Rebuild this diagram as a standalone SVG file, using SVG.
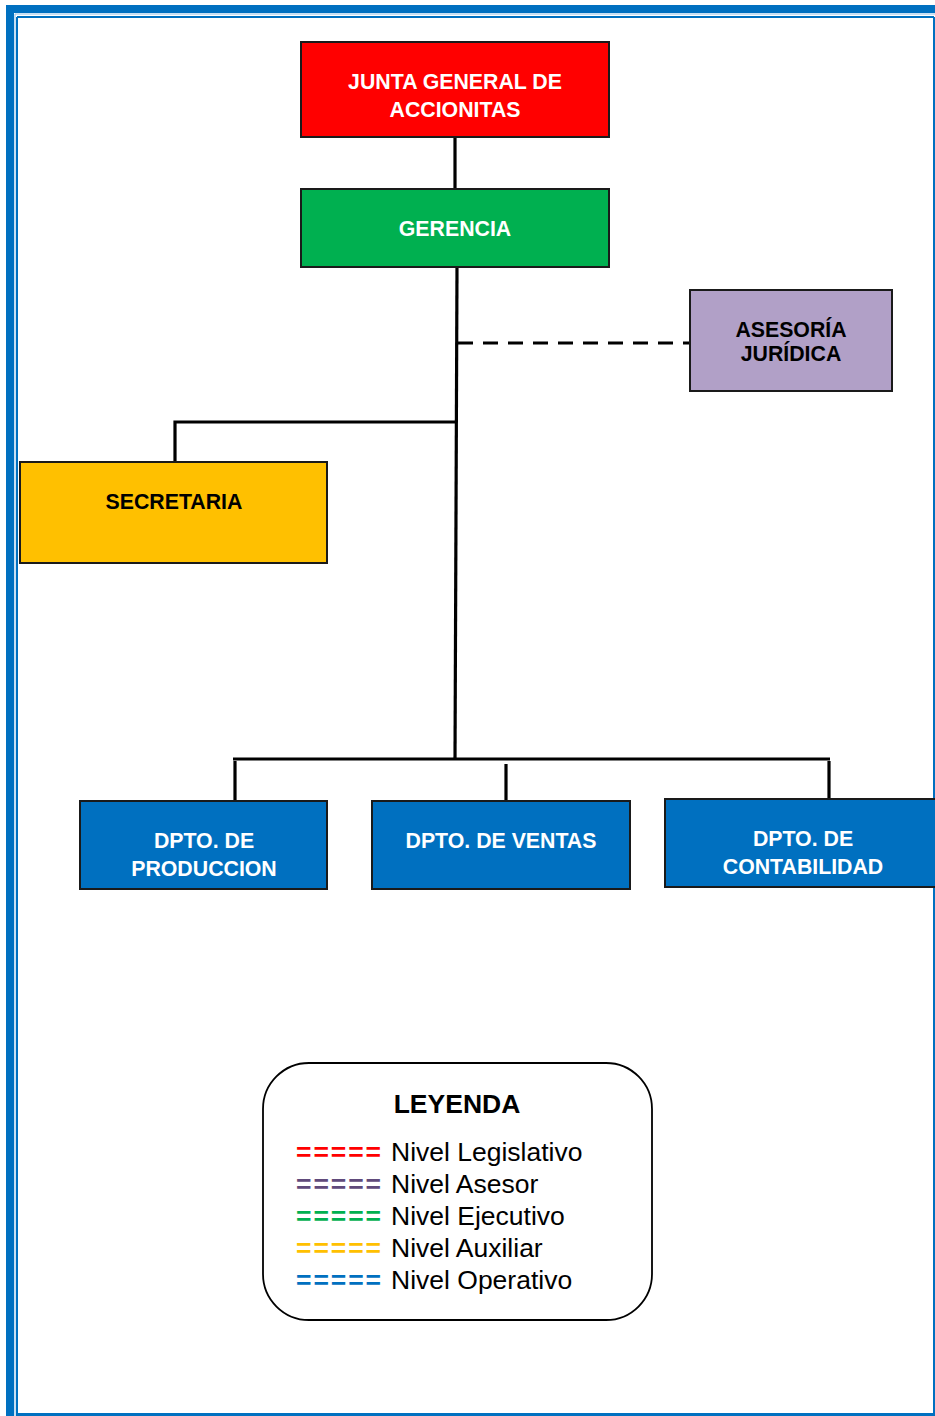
<svg xmlns="http://www.w3.org/2000/svg" width="935" height="1416" viewBox="0 0 935 1416">
  <style>
    .box { stroke: #1a1a1a; stroke-width: 2; }
    .lbl { font-family: "Liberation Sans", Arial, sans-serif; font-weight: bold; font-size: 21.3px; text-anchor: middle; }
    .w { fill: #ffffff; }
    .k { fill: #000000; }
    .conn { stroke: #000000; stroke-width: 3.2; fill: none; }
    .leg { font-family: "Liberation Sans", Arial, sans-serif; font-size: 26.5px; fill: #000000; }
    .eq { font-family: "Liberation Sans", Arial, sans-serif; font-size: 26.5px; font-weight: bold; }
  </style>

  <rect x="0" y="0" width="935" height="1416" fill="#ffffff"/>

  <!-- page frame: thick band top/left/bottom, thin inner rule -->
  <g id="frame">
    <rect x="6" y="5" width="929" height="8" fill="#0070C0"/>
    <rect x="6" y="5" width="8" height="1411" fill="#0070C0"/>
    <line x1="15" y1="14" x2="935" y2="14" stroke="#8fbfe6" stroke-width="1"/>
    <line x1="15" y1="14" x2="15" y2="1416" stroke="#8fbfe6" stroke-width="1"/>
    <line x1="17" y1="17" x2="934" y2="17" stroke="#0070C0" stroke-width="2"/>
    <line x1="17" y1="17" x2="17" y2="1416" stroke="#0070C0" stroke-width="2"/>
    <line x1="934" y1="17" x2="934" y2="1416" stroke="#0070C0" stroke-width="2"/>
    <rect x="17" y="1413" width="918" height="3" fill="#0070C0"/>
  </g>

  <!-- connectors -->
  <g id="connectors">
    <line class="conn" x1="455" y1="137" x2="455" y2="189"/>
    <line class="conn" x1="457" y1="267" x2="455" y2="760"/>
    <line class="conn" x1="458" y1="343" x2="689" y2="343" stroke-dasharray="15 10"/>
    <polyline class="conn" points="456,422 175,422 175,462"/>
    <line class="conn" x1="233" y1="759" x2="830" y2="759"/>
    <line class="conn" x1="235" y1="761" x2="235" y2="801"/>
    <line class="conn" x1="506" y1="764" x2="506" y2="801"/>
    <line class="conn" x1="829" y1="761" x2="829" y2="799"/>
  </g>

  <g id="junta">
    <rect class="box" x="301" y="42" width="308" height="95" fill="#FF0000"/>
    <text class="lbl w" x="455" y="89">JUNTA GENERAL DE</text>
    <text class="lbl w" x="455" y="117">ACCIONITAS</text>
  </g>

  <g id="gerencia">
    <rect class="box" x="301" y="189" width="308" height="78" fill="#00B050"/>
    <text class="lbl w" x="455" y="236">GERENCIA</text>
  </g>

  <g id="asesoria">
    <rect class="box" x="690" y="290" width="202" height="101" fill="#B1A0C7"/>
    <text class="lbl k" x="791" y="337">ASESORÍA</text>
    <text class="lbl k" x="791" y="361">JURÍDICA</text>
  </g>

  <g id="secretaria">
    <rect class="box" x="20" y="462" width="307" height="101" fill="#FFC000"/>
    <text class="lbl k" x="174" y="509">SECRETARIA</text>
  </g>

  <g id="produccion">
    <rect class="box" x="80" y="801" width="247" height="88" fill="#0070C0"/>
    <text class="lbl w" x="204" y="848">DPTO. DE</text>
    <text class="lbl w" x="204" y="876">PRODUCCION</text>
  </g>

  <g id="ventas">
    <rect class="box" x="372" y="801" width="258" height="88" fill="#0070C0"/>
    <text class="lbl w" x="501" y="848">DPTO. DE VENTAS</text>
  </g>

  <g id="contabilidad">
    <rect class="box" x="665" y="799" width="280" height="88" fill="#0070C0"/>
    <text class="lbl w" x="803" y="846">DPTO. DE</text>
    <text class="lbl w" x="803" y="874">CONTABILIDAD</text>
  </g>

  <g id="leyenda">
    <rect x="263" y="1063" width="389" height="257" rx="46" ry="46" fill="#ffffff" stroke="#000000" stroke-width="1.8"/>
    <text x="457" y="1113" font-family="'Liberation Sans', Arial, sans-serif" font-weight="bold" font-size="26.5" text-anchor="middle">LEYENDA</text>
    <text class="eq" x="296" y="1161" fill="#FF0000" textLength="85" lengthAdjust="spacing">=====</text>
    <text class="leg" x="391" y="1161">Nivel Legislativo</text>
    <text class="eq" x="296" y="1193" fill="#604A7B" textLength="85" lengthAdjust="spacing">=====</text>
    <text class="leg" x="391" y="1193">Nivel Asesor</text>
    <text class="eq" x="296" y="1225" fill="#00B050" textLength="85" lengthAdjust="spacing">=====</text>
    <text class="leg" x="391" y="1225">Nivel Ejecutivo</text>
    <text class="eq" x="296" y="1257" fill="#FFC000" textLength="85" lengthAdjust="spacing">=====</text>
    <text class="leg" x="391" y="1257">Nivel Auxiliar</text>
    <text class="eq" x="296" y="1289" fill="#0070C0" textLength="85" lengthAdjust="spacing">=====</text>
    <text class="leg" x="391" y="1289">Nivel Operativo</text>
  </g>
</svg>
